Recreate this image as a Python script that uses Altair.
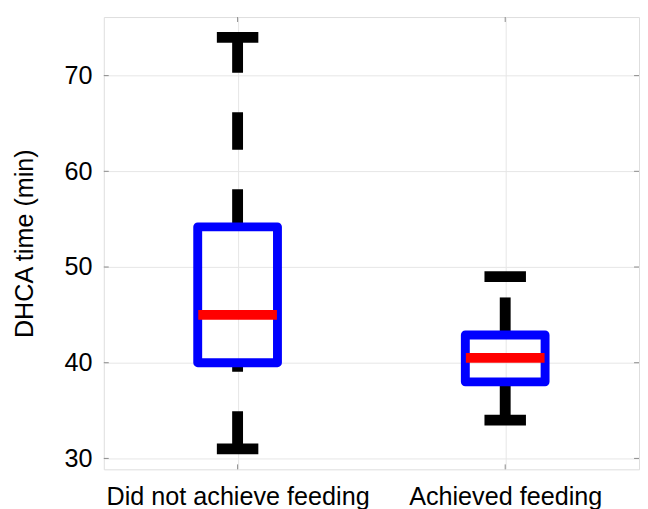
import altair as alt
import pandas as pd

# ---- data ----
categories = ["Did not achieve feeding", "Achieved feeding"]
positions = [1, 2]
lower_whisker = [31.0, 34.0]
q1 = [40.0, 38.0]
median = [45.0, 40.5]
q3 = [54.2, 42.9]
upper_whisker = [74.0, 49.0]
y_ticks = [30, 40, 50, 60, 70]

df = pd.DataFrame({
    "cat": categories,
    "pos": positions,
    "lo": lower_whisker,
    "q1": q1,
    "med": median,
    "q3": q3,
    "hi": upper_whisker,
})
ticks_df = pd.DataFrame({"v": y_ticks})

W, H = 542, 458
FONT = "Liberation Sans"
FS = 25.5

label_expr = " : ".join(
    [f"datum.value == {p} ? '{c}'" for p, c in zip(positions, categories)]
) + " : ''"

xscale = alt.Scale(domain=[0.5, 2.5], nice=False, zero=False)
yscale = alt.Scale(domain=[28.86, 76.12], nice=False, zero=False)

xaxis = alt.Axis(
    values=positions, labelExpr=label_expr, title=None,
    labelFont=FONT, labelFontSize=FS, labelColor="black", labelLimit=0,
    tickSize=0, labelPadding=16, domain=False,
    grid=True, gridColor="#e6e6e6", gridWidth=1,
)
yaxis = alt.Axis(
    values=y_ticks, title="DHCA time (min)",
    labelFont=FONT, labelFontSize=FS, labelColor="black",
    titleFont=FONT, titleFontSize=FS, titleFontWeight="normal", titleColor="black",
    tickSize=0, labelPadding=12, titlePadding=27, domain=False,
    grid=True, gridColor="#e6e6e6", gridWidth=1,
)

base = alt.Chart(df).transform_calculate(
    bx="datum.pos - 0.149", bx2="datum.pos + 0.149",
    cx="datum.pos - 0.0775", cx2="datum.pos + 0.0775",
    mx="datum.pos - 0.147", mx2="datum.pos + 0.147",
)

whisk_up = base.mark_rule(color="black", strokeWidth=11, strokeDash=[38, 40], strokeCap="butt").encode(
    x=alt.X("pos:Q", scale=xscale, axis=xaxis),
    y=alt.Y("q3:Q", scale=yscale, axis=yaxis),
    y2="hi:Q",
)
whisk_lo = base.mark_rule(color="black", strokeWidth=11, strokeDash=[38, 40], strokeCap="butt").encode(
    x=alt.X("pos:Q", scale=xscale),
    y=alt.Y("lo:Q", scale=yscale),
    y2="q1:Q",
)
cap_hi = base.mark_rule(color="black", strokeWidth=11, strokeCap="butt").encode(
    x=alt.X("cx:Q", scale=xscale), x2="cx2:Q",
    y=alt.Y("hi:Q", scale=yscale),
)
cap_lo = base.mark_rule(color="black", strokeWidth=11, strokeCap="butt").encode(
    x=alt.X("cx:Q", scale=xscale), x2="cx2:Q",
    y=alt.Y("lo:Q", scale=yscale),
)
box = base.mark_rect(stroke="#0000ff", strokeWidth=9, fill="white", fillOpacity=0, strokeJoin="round").encode(
    x=alt.X("bx:Q", scale=xscale), x2="bx2:Q",
    y=alt.Y("q1:Q", scale=yscale), y2="q3:Q",
)
med = base.mark_rule(color="#ff0000", strokeWidth=10, strokeCap="butt").encode(
    x=alt.X("mx:Q", scale=xscale), x2="mx2:Q",
    y=alt.Y("med:Q", scale=yscale),
)

# small inward ticks on the frame (MATLAB style)
tick_col = "#8a8a8a"
lt = alt.Chart(ticks_df).mark_rule(color=tick_col, strokeWidth=1).encode(
    y=alt.Y("v:Q", scale=yscale), x=alt.value(0), x2=alt.value(5))
rt = alt.Chart(ticks_df).mark_rule(color=tick_col, strokeWidth=1).encode(
    y=alt.Y("v:Q", scale=yscale), x=alt.value(W - 5), x2=alt.value(W))
bt = base.mark_rule(color=tick_col, strokeWidth=1).encode(
    x=alt.X("pos:Q", scale=xscale), y=alt.value(H - 5), y2=alt.value(H))
tt = base.mark_rule(color=tick_col, strokeWidth=1).encode(
    x=alt.X("pos:Q", scale=xscale), y=alt.value(0), y2=alt.value(5))

chart = alt.layer(lt, rt, bt, tt, whisk_up, whisk_lo, cap_hi, cap_lo, box, med).properties(
    width=W, height=H,
    autosize=alt.AutoSizeParams(type="none"),
    padding={"left": 97, "top": 6, "right": 1, "bottom": 37},
).configure_view(
    stroke="#8f8f8f", strokeWidth=1.5,
).configure(background="white")

chart.save("out.html", embed_options={"renderer": "svg", "actions": False})
